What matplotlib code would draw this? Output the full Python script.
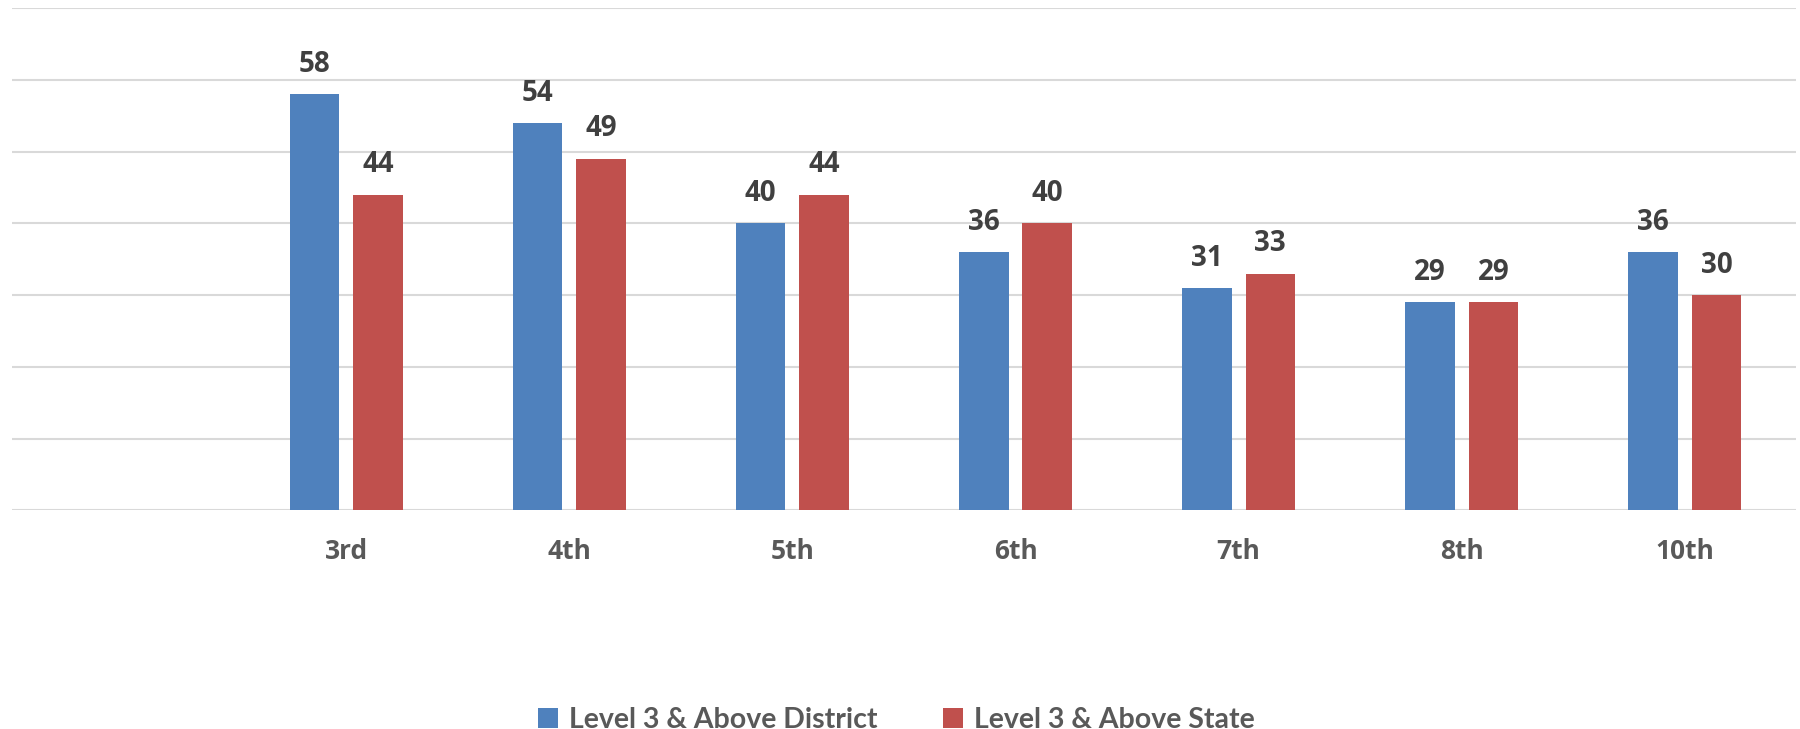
import matplotlib
matplotlib.use("Agg")
import matplotlib.pyplot as plt
import numpy as np

categories = ["", "3rd", "4th", "5th", "6th", "7th", "8th", "10th"]
district = [np.nan, 58, 54, 40, 36, 31, 29, 36]
state = [np.nan, 44, 49, 44, 40, 33, 29, 30]
series_names = ["Level 3 & Above District", "Level 3 & Above State"]
colors = ["#4F81BD", "#C0504D"]

plt.rcParams['font.family'] = ['Open Sans', 'DejaVu Sans']

fig = plt.figure(figsize=(18, 7.29), dpi=100)
ax = fig.add_axes([0.0064, 0.300, 0.9916, 0.689])

x = np.arange(len(categories))
w = 0.222
off = 0.142
for vals, name, col, sgn in [(district, series_names[0], colors[0], -1), (state, series_names[1], colors[1], 1)]:
    ax.bar(x + sgn * off, vals, width=w, color=col, label=name, zorder=3)
    for xi, v in zip(x, vals):
        if not np.isnan(v):
            ax.annotate(f"{v:g}", (xi + sgn * off, v), xytext=(0, 11), textcoords="offset points",
                        ha="center", va="bottom", fontsize=20, fontweight="bold", color="#404040")

ax.set_xlim(-0.5, len(categories) - 0.5)
ax.set_ylim(0, 70)
ax.set_yticks(np.arange(0, 71, 10))
ax.set_yticklabels([])
ax.tick_params(axis='y', length=0)
ax.grid(axis='y', color="#D9D9D9", linewidth=1.5, zorder=0)
ax.set_xticks(x)
ax.set_xticklabels(categories, fontsize=19, fontweight="bold", color="#595959")
ax.tick_params(axis='x', length=0, pad=20)
for s in ax.spines.values():
    s.set_visible(False)

fig.legend(loc="lower center", bbox_to_anchor=(0.498, -0.04), ncol=2, frameon=False,
           prop={"family": ["Lato", "DejaVu Sans"], "size": 20.5, "weight": "bold"}, labelcolor="#595959",
           handlelength=0.7, handleheight=0.7, handletextpad=0.4, columnspacing=2.3)

fig.savefig("out.png", dpi=100)
